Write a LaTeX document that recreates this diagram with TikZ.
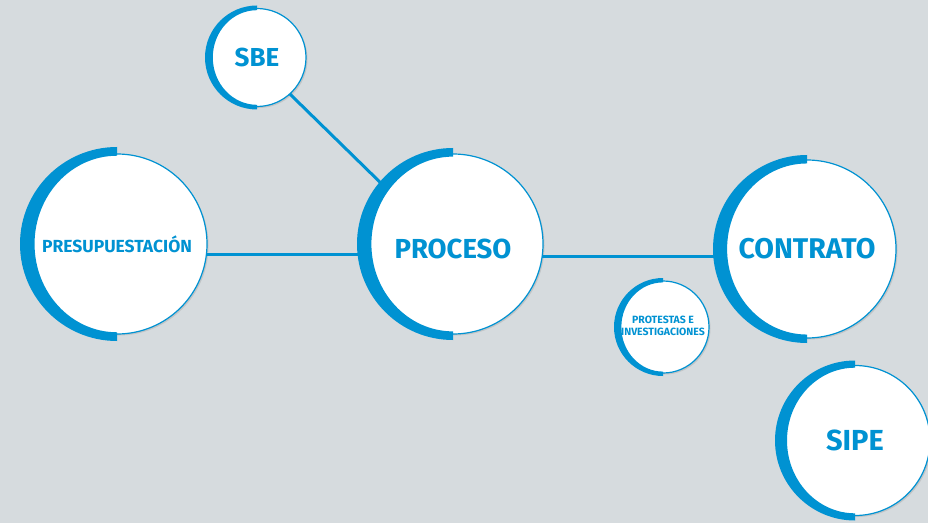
\documentclass[tikz,border=0pt]{standalone}
\usepackage{fontspec}
\setmainfont{Fira Sans}
\usepackage{tikz,tkz-graph}
\usetikzlibrary{shadows}
\definecolor{bgGray}{RGB}{214,219,222}
\definecolor{mapBlue}{RGB}{0,146,210}
\tikzstyle{bubble}=[shape = circle, inner sep = 0pt, draw = mapBlue, line width = 1.2pt, fill = white, text = mapBlue, drop shadow = {shadow xshift = 1.5pt, shadow yshift = -1.5pt, opacity = 0.25}]
\tikzstyle{band}=[fill = mapBlue]

\begin{document}
\begin{tikzpicture}[x = 1pt, y = 1pt]
\tikzstyle{VertexStyle} = []
\tikzstyle{linkStyle} = [draw = mapBlue, line width = 3pt]
\fill[bgGray] (0,0) rectangle (928,523);
\useasboundingbox (0,0) rectangle (928,523);
\Vertex[style = {bubble, minimum size = 98pt}, x = 257, y = 465.5, L = \fontsize{26}{26}\selectfont\bfseries {SBE}]{sbe}
\Vertex[style = {bubble, minimum size = 180pt}, x = 117, y = 279, L = \fontsize{17.5}{17.5}\selectfont\bfseries {PRESUPUESTACIÓN}]{pres}
\Vertex[style = {bubble, minimum size = 180pt}, x = 453, y = 279, L = \fontsize{27.5}{27.5}\selectfont\bfseries {\rule{0pt}{30pt}PROCESO}]{proc}
\Vertex[style = {bubble, minimum size = 178pt}, x = 807, y = 274, L = \fontsize{28.5}{28.5}\selectfont\bfseries {CONTRATO}]{cont}
\Vertex[style = {bubble, minimum size = 92pt}, x = 663, y = 196, L = \fontsize{10.5}{12.5}\selectfont\bfseries {\begin{tabular}{@{}c@{}}PROTESTAS E\\INVESTIGACIONES\end{tabular}}]{prot}
\Vertex[style = {bubble, minimum size = 150pt}, x = 855, y = 82.5, L = \fontsize{29}{29}\selectfont\bfseries {SIPE}]{sipe}
\draw[linkStyle] (pres.-7) -- (pres.-7 -| proc.west);
\draw[linkStyle] (proc.-8) -- (proc.-8 -| cont.west);
\draw[linkStyle] (sbe.-48) -- (proc.140);
% thick half rings on the left
\foreach \v/\R in {sbe/52, pres/97, proc/96, cont/94, prot/49, sipe/80}{
  \fill[band] (\v.center) ++(0,\R) arc[start angle = 90, end angle = 270, radius = \R]
    -- ++(0,{0.09*\R}) arc[start angle = 270, end angle = 90, x radius = {0.85*\R}, y radius = {0.91*\R}] -- cycle;
}
\end{tikzpicture}
\end{document}
